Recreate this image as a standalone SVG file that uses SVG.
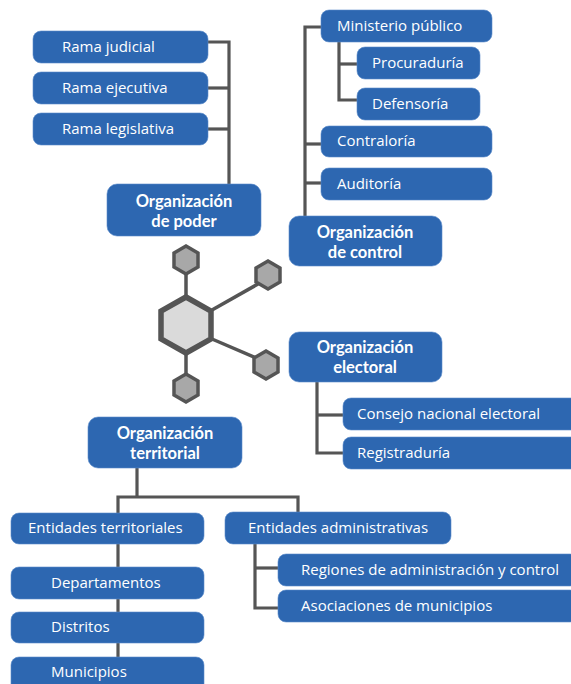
<svg xmlns="http://www.w3.org/2000/svg" width="571" height="684" viewBox="0 0 571 684">
<style>
.box{fill:#2D67B1;stroke:#5A8BCB;stroke-width:0.6}
.t{font-family:"Open Sans","Noto Sans",sans-serif;font-size:15px;fill:#fff}
.h{font-family:Lato,"Open Sans",sans-serif;font-size:16.5px;font-weight:bold;fill:#fff;text-anchor:middle}
.c{fill:none;stroke:#555;stroke-width:3.2}
.hx{fill:#A8A8A8;stroke:#555;stroke-width:3.5}
</style>
<rect width="571" height="684" fill="#fff"/>
<g id="connectors">
<polyline class="c" points="208,42 229,42 229,184"/>
<line class="c" x1="208" y1="88" x2="229" y2="88"/>
<line class="c" x1="208" y1="129" x2="229" y2="129"/>
<polyline class="c" points="321,27 305,27 305,216"/>
<line class="c" x1="305" y1="144" x2="321" y2="144"/>
<line class="c" x1="305" y1="183" x2="321" y2="183"/>
<polyline class="c" points="339,42 339,100 357,100"/>
<line class="c" x1="339" y1="64" x2="357" y2="64"/>
<polyline class="c" points="317,382 317,453 343,453"/>
<line class="c" x1="317" y1="415" x2="343" y2="415"/>
<line class="c" x1="137" y1="468" x2="137" y2="497"/>
<polyline class="c" points="118,513 118,497 298,497 298,512"/>
<line class="c" x1="118" y1="544" x2="118" y2="567"/>
<line class="c" x1="118" y1="599" x2="118" y2="612"/>
<line class="c" x1="118" y1="643" x2="118" y2="657"/>
<polyline class="c" points="255,544 255,608 278,608"/>
<line class="c" x1="255" y1="568" x2="278" y2="568"/>
</g>
<g id="molecule">
<g stroke="#555" stroke-width="3.5">
<line x1="186" y1="274" x2="186" y2="297"/>
<line x1="186" y1="353" x2="186" y2="375"/>
<line x1="212" y1="310" x2="258" y2="284"/>
<line x1="212" y1="339" x2="256" y2="358"/>
</g>
<polygon points="186,297 211,311 211,339 186,353 161,339 161,311" fill="#DADADA" stroke="#555" stroke-width="5.5"/>
<polygon class="hx" points="186,246 198,253 198,267 186,274 174,267 174,253"/>
<polygon class="hx" points="268,261 280,268 280,282 268,289 256,282 256,268"/>
<polygon class="hx" points="266,351 278,358 278,372 266,379 254,372 254,358"/>
<polygon class="hx" points="186,374 198,381 198,395 186,402 174,395 174,381"/>
</g>
<g id="rama-judicial"><rect class="box" x="33" y="31" width="175" height="32" rx="8"/><text class="t" x="62" y="52">Rama judicial</text></g>
<g id="rama-ejecutiva"><rect class="box" x="33" y="72" width="175" height="32" rx="8"/><text class="t" x="62" y="93">Rama ejecutiva</text></g>
<g id="rama-legislativa"><rect class="box" x="33" y="113" width="175" height="32" rx="8"/><text class="t" x="62" y="134">Rama legislativa</text></g>
<g id="org-poder"><rect class="box" x="107" y="184" width="154" height="52" rx="10"/><text class="h" x="184" y="207">Organización</text><text class="h" x="184" y="227">de poder</text></g>
<g id="ministerio"><rect class="box" x="321" y="10" width="171" height="32" rx="8"/><text class="t" x="337" y="31">Ministerio público</text></g>
<g id="procuraduria"><rect class="box" x="357" y="47" width="123" height="32" rx="8"/><text class="t" x="372" y="68">Procuraduría</text></g>
<g id="defensoria"><rect class="box" x="357" y="88" width="123" height="32" rx="8"/><text class="t" x="372" y="109">Defensoría</text></g>
<g id="contraloria"><rect class="box" x="321" y="126" width="171" height="31" rx="8"/><text class="t" x="337" y="146">Contraloría</text></g>
<g id="auditoria"><rect class="box" x="321" y="168" width="171" height="32" rx="8"/><text class="t" x="337" y="189">Auditoría</text></g>
<g id="org-control"><rect class="box" x="289" y="216" width="153" height="50" rx="10"/><text class="h" x="365" y="238">Organización</text><text class="h" x="365" y="258">de control</text></g>
<g id="org-electoral"><rect class="box" x="289" y="332" width="153" height="50" rx="10"/><text class="h" x="365" y="353">Organización</text><text class="h" x="365" y="373">electoral</text></g>
<g id="consejo"><rect class="box" x="343" y="398" width="236" height="32" rx="8"/><text class="t" x="357" y="419">Consejo nacional electoral</text></g>
<g id="registraduria"><rect class="box" x="343" y="437" width="236" height="32" rx="8"/><text class="t" x="357" y="458">Registraduría</text></g>
<g id="org-territorial"><rect class="box" x="88" y="417" width="154" height="51" rx="10"/><text class="h" x="165" y="439">Organización</text><text class="h" x="165" y="459">territorial</text></g>
<g id="ent-territoriales"><rect class="box" x="11" y="513" width="193" height="31" rx="8"/><text class="t" x="28" y="533">Entidades territoriales</text></g>
<g id="departamentos"><rect class="box" x="11" y="567" width="193" height="32" rx="8"/><text class="t" x="51" y="588">Departamentos</text></g>
<g id="distritos"><rect class="box" x="11" y="612" width="193" height="31" rx="8"/><text class="t" x="51" y="632">Distritos</text></g>
<g id="municipios"><rect class="box" x="11" y="657" width="193" height="40" rx="8"/><text class="t" x="51" y="677">Municipios</text></g>
<g id="ent-administrativas"><rect class="box" x="225" y="512" width="226" height="32" rx="8"/><text class="t" x="248" y="533">Entidades administrativas</text></g>
<g id="regiones"><rect class="box" x="278" y="554" width="300" height="32" rx="8"/><text class="t" x="301" y="575">Regiones de administración y control</text></g>
<g id="asociaciones"><rect class="box" x="278" y="590" width="300" height="32" rx="8"/><text class="t" x="301" y="611">Asociaciones de municipios</text></g>
</svg>
